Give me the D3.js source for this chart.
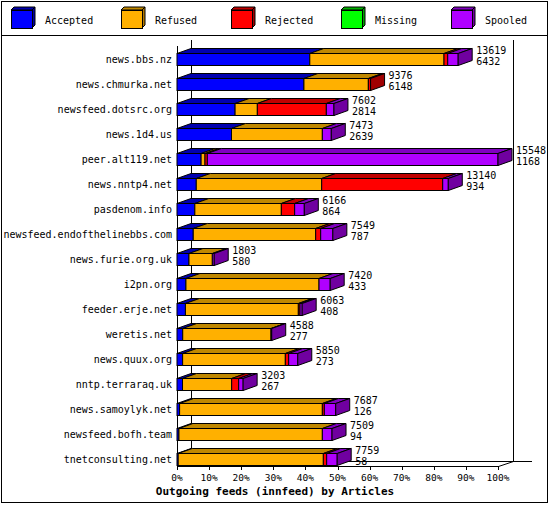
<!DOCTYPE html>
<html><head><meta charset="utf-8">
<script src="https://cdn.jsdelivr.net/npm/d3@7"></script>
<style>body{margin:0;background:#fff}text{font-family:"DejaVu Sans Mono",monospace;font-size:10px}</style>
</head><body><svg id="c" width="550" height="505"></svg>
<script>
var hosts = ["news.bbs.nz","news.chmurka.net","newsfeed.dotsrc.org","news.1d4.us","peer.alt119.net","news.nntp4.net","pasdenom.info","newsfeed.endofthelinebbs.com","news.furie.org.uk","i2pn.org","feeder.erje.net","weretis.net","news.quux.org","nntp.terraraq.uk","news.samoylyk.net","newsfeed.bofh.team","tnetconsulting.net"];
var totals   = [13619,9376,7602,7473,15548,13140,6166,7549,1803,7420,6063,4588,5850,3203,7687,7509,7759];
var accepted = [6432,6148,2814,2639,1168,934,864,787,580,433,408,277,273,267,126,94,58];
var refused  = [6501,3120,1077,4401,188,6074,4190,5930,1131,6445,5469,4276,4974,2381,6914,6946,7030];
var rejected = [180,108,3342,0,113,5862,645,243,0,0,81,0,162,339,97,0,162];
var missing  = [0,0,0,0,0,0,0,0,0,0,0,0,0,0,0,0,0];
var spooled  = totals.map(function(t,i){return t-accepted[i]-refused[i]-rejected[i]-missing[i];});
var series = ["Accepted","Refused","Rejected","Missing","Spooled"];
var front = ["#0000ff","#ffb000","#ff0000","#00ff00","#b000ff"];
var topc  = ["#0000b0","#c08800","#c00000","#00b000","#8000c0"];
var side  = ["#0000a0","#b07800","#a00000","#00a000","#7000a0"];
var ticks = [0,10,20,30,40,50,60,70,80,90,100];

var svg = d3.select("#c");
var dx = 14, dy = 5, bh = 12;
var x = d3.scaleLinear().domain([0, d3.max(totals)]).range([177, 498]);
var xp = d3.scaleLinear().domain([0,100]).range([177,498]);
var y = d3.scaleBand().domain(hosts).range([53-6.5, 453+18.5]).paddingInner(0.5).paddingOuter(0.25);

svg.append("rect").attr("x",1.5).attr("y",1.5).attr("width",546).attr("height",501).attr("fill","none").attr("stroke","#000");
svg.append("line").attr("x1",1).attr("x2",548).attr("y1",35.5).attr("y2",35.5).attr("stroke","#000");

// legend
series.forEach(function(s,i){
  var lx = 11 + i*110, ly = 10;
  var g = svg.append("g");
  g.append("polygon").attr("points",[[lx,ly],[lx+3,ly-3],[lx+24,ly-3],[lx+21,ly]].join(" ")).attr("fill",topc[i]).attr("stroke","#000");
  g.append("polygon").attr("points",[[lx+21,ly],[lx+24,ly-3],[lx+24,ly+15],[lx+21,ly+18]].join(" ")).attr("fill",side[i]).attr("stroke","#000");
  g.append("rect").attr("x",lx+.5).attr("y",ly+.5).attr("width",21).attr("height",18).attr("fill",front[i]).attr("stroke","#000");
  g.append("text").attr("x",lx+34).attr("y",23.5).text(s);
});

// walls
var ax = svg.append("g").attr("stroke","#000").attr("fill","none");
ax.append("line").attr("x1",191.5).attr("x2",191.5).attr("y1",40).attr("y2",461.5);
ax.append("line").attr("x1",513.5).attr("x2",513.5).attr("y1",40).attr("y2",461.5);
ax.append("line").attr("x1",177.5).attr("x2",177.5).attr("y1",46).attr("y2",466.5);
ax.append("line").attr("x1",191).attr("x2",532).attr("y1",461.5).attr("y2",461.5);
ax.append("line").attr("x1",177).attr("x2",498).attr("y1",466.5).attr("y2",466.5);
ax.append("line").attr("x1",177.5).attr("x2",191.5).attr("y1",466.5).attr("y2",461.5);
ax.append("line").attr("x1",498.5).attr("x2",513.5).attr("y1",466.5).attr("y2",461.5);
ticks.forEach(function(t){
  ax.append("line").attr("x1",Math.round(xp(t))+.5).attr("x2",Math.round(xp(t))+.5).attr("y1",466).attr("y2",470);
  svg.append("text").attr("x",xp(t)).attr("y",481).attr("text-anchor","middle").style("font-size","9.5px").text(t+"%");
});
svg.append("text").attr("x",275).attr("y",495).attr("text-anchor","middle").style("font-weight","bold").style("font-size","11px").text("Outgoing feeds (innfeed) by Articles");

// bars
var cols = [accepted, refused, rejected, missing, spooled];
hosts.forEach(function(h,i){
  var top = Math.round(y(h)) + .5, bot = top + bh;
  var g = svg.append("g").attr("stroke","#000");
  var acc = 0, last = 0;
  cols.forEach(function(c,k){
    var v = c[i]; if (!v) return;
    var x0 = x(acc), x1 = x(acc+v); acc += v; last = k;
    g.append("polygon").attr("points",[[x0,top],[x0+dx,top-dy],[x1+dx,top-dy],[x1,top]].join(" ")).attr("fill",topc[k]);
    g.append("rect").attr("x",x0).attr("y",top).attr("width",x1-x0).attr("height",bh).attr("fill",front[k]);
  });
  var xe = x(acc);
  g.append("polygon").attr("points",[[xe,top],[xe+dx,top-dy],[xe+dx,bot-dy],[xe,bot]].join(" ")).attr("fill",side[last]);
  svg.append("text").attr("x",172).attr("y",top+bh/2+3.5).attr("text-anchor","end").text(h);
  svg.append("text").attr("x",xe+dx+4).attr("y",top+0.5).text(totals[i]);
  svg.append("text").attr("x",xe+dx+4).attr("y",top+11).text(accepted[i]);
});
</script></body></html>
